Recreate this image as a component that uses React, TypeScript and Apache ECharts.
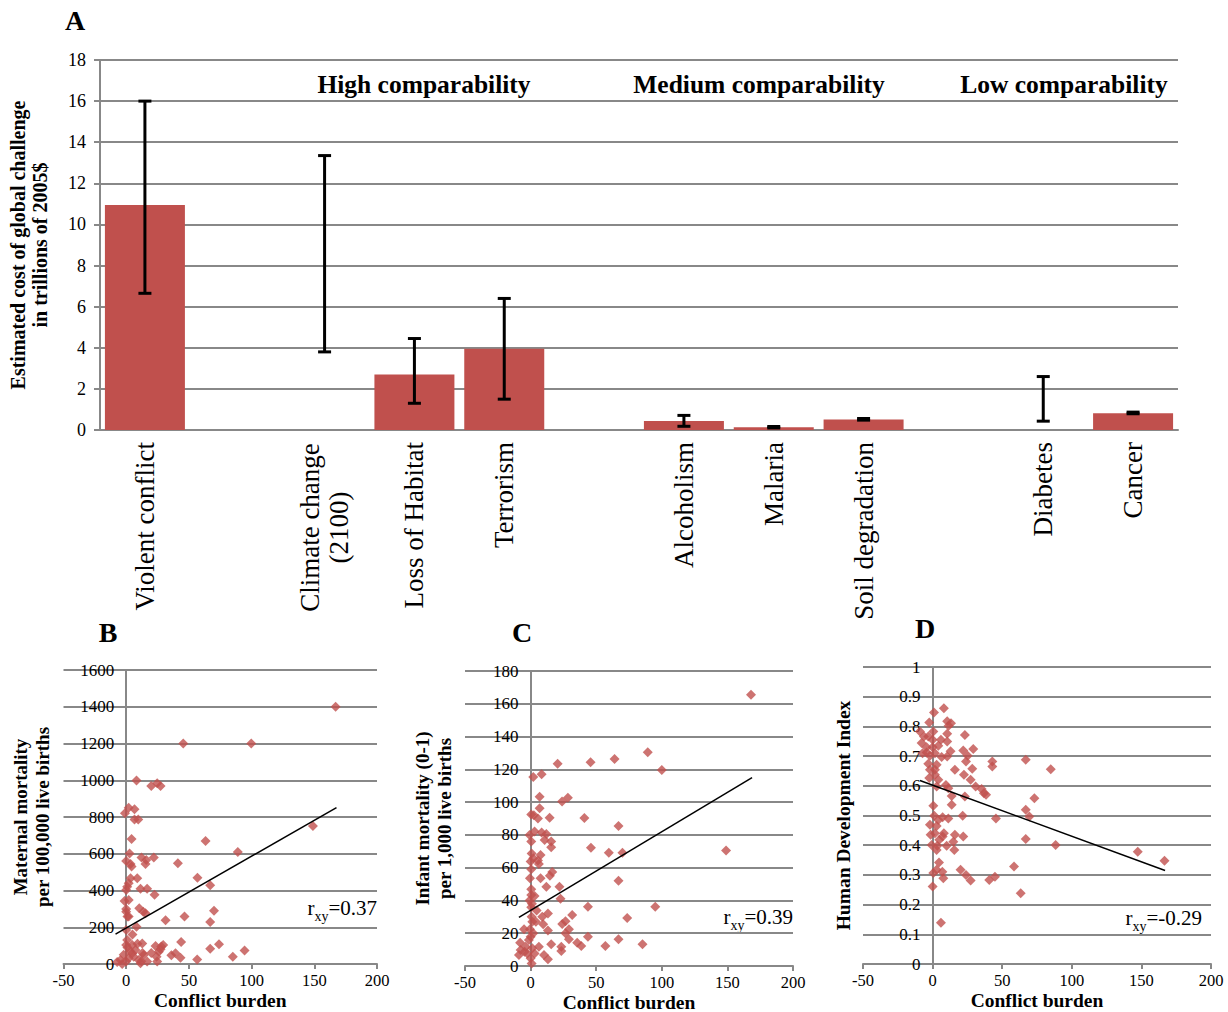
import React, { useEffect, useRef } from "react";
import * as echarts from "echarts";

const FONT = '"Liberation Serif", "Times New Roman", serif';
const RED = "#C0504D";
const GRAY = "#888888";

// Panel A
const categories = [
  "Violent conflict",
  "",
  "Climate change\n(2100)",
  "Loss of Habitat",
  "Terrorism",
  "",
  "Alcoholism",
  "Malaria",
  "Soil degradation",
  "",
  "Diabetes",
  "Cancer",
];
const costs = [10.95, null, null, 2.7, 3.95, null, 0.44, 0.13, 0.51, null, null, 0.82];
const errLow = [6.65, null, 3.8, 1.3, 1.5, null, 0.18, 0.1, 0.48, null, 0.43, 0.79];
const errHigh = [16, null, 13.35, 4.45, 6.4, null, 0.71, 0.17, 0.56, null, 2.6, 0.87];
const costTicks = { min: 0, max: 18, interval: 2 };
const sectionTitles = ["High comparability", "Medium comparability", "Low comparability"];

// Panel B: conflict burden vs maternal mortality
const pointsB = [
  [167, 1400], [45.5, 1200], [99.7, 1200], [8.2, 998], [20, 969], [24.7, 983], [27.4, 969],
  [-1, 820], [2, 850], [6.6, 842], [6.6, 787], [9.6, 787], [148.9, 751], [4.3, 680], [63.3, 669],
  [89, 609], [2.7, 602], [12.2, 580], [22, 580], [0, 560], [3.5, 544], [4.3, 530], [15.4, 544],
  [16, 566], [41.2, 548], [3.5, 466], [8.8, 466], [56.8, 470], [67, 428], [0.8, 421], [0, 403],
  [11.4, 410], [16.7, 410], [22.6, 377], [-1.3, 343], [2, 348], [10.4, 303], [13.6, 285],
  [15.4, 276], [70, 290], [0, 285], [1, 258], [2, 258], [46.5, 258], [31.4, 238], [67, 229],
  [0, 185], [8.2, 203], [0, 103], [12.8, 112], [23.4, 98], [29.5, 103], [43.8, 120], [74, 107],
  [67, 83], [36, 47], [39.3, 58], [43.3, 34], [56.6, 25], [85, 40], [94.4, 73], [-7.2, 11],
  [-4.5, 22], [-3.2, 0], [0, 13], [2, 31], [4.8, 58], [7.4, 76], [10, 22], [11.4, 4], [14, 49],
  [16.7, 13], [24.2, 40], [26, 67], [24.7, 13], [27.4, 80], [4.8, 103], [0.8, 130], [2, 440],
  [0, 300], [5, 160], [3, 70], [6, 40], [9, 110], [13, 60], [-2, 50], [1, 90], [20, 60],
  [28, 95], [12, 15],
];
const trendB = [[-8.5, 163], [167.7, 851]];
const ticksB = { min: 0, max: 1600, interval: 200 };

// Panel C: conflict burden vs infant mortality
const pointsC = [
  [168, 165.5], [89.3, 130.4], [64, 126.3], [45.7, 124.3], [20.6, 123.4], [100, 119.6], [2, 115.3],
  [8.4, 117], [6.9, 103.3], [28.4, 102.7], [24, 100.3], [6.9, 96.2], [0.5, 92.5], [2.5, 92],
  [5.6, 90], [14.5, 90.5], [41, 90.3], [67, 85.4], [-0.8, 80], [0.5, 76], [3, 82], [8.4, 81.4],
  [12, 80.5], [10.7, 76.9], [15.7, 75.9], [15.7, 72.4], [46, 72.2], [59.6, 69.1], [70, 69.1],
  [0.8, 68.7], [2, 65.7], [5.6, 64.3], [7.6, 67.7], [0, 63.7], [6.3, 62.2], [0.5, 59], [16.5, 57.4],
  [14.7, 55], [-0.5, 53.5], [7.6, 53.5], [67, 52], [12, 48.4], [22, 48.4], [0.5, 46.8], [0.5, 43.3],
  [3, 42.7], [22.8, 41], [149, 70.4], [-0.8, 40], [0.5, 35.8], [4.6, 33.8], [13.2, 32.1],
  [43.7, 36.2], [95, 36.2], [0.8, 30], [8.9, 30], [31.7, 31.1], [73.6, 29.3], [1.3, 27],
  [26.6, 27.3], [24.1, 25.6], [9.6, 25.4], [-0.5, 22.4], [-5, 22.4], [13.2, 21.6], [29.2, 22.4],
  [26.6, 20], [0, 17.9], [43.7, 17.9], [67, 16.3], [29.2, 16.3], [35.5, 14.2], [38.6, 12.2],
  [57, 12.2], [85.3, 13.2], [15.7, 13.2], [23.4, 11.8], [23.4, 9.2], [10.2, 6.7], [13.2, 4.1],
  [-8, 14.2], [-7.6, 9.8], [-8.9, 6.7], [-3.8, 11.8], [-2.5, 7.7], [0, 4.7], [0.8, 1.6],
  [-1.3, 15.9], [1.3, 10.8], [3, 7.7], [6.3, 11.8], [-4.6, 8.7], [2, 20], [4, 27], [1, 38],
];
const trendC = [[-8.9, 29.7], [168.8, 114.9]];
const ticksC = { min: 0, max: 180, interval: 20 };

// Panel D: conflict burden vs human development index
const pointsD = [
  [8.1, 0.861], [1, 0.847], [10.5, 0.817], [13.2, 0.811], [-2.4, 0.813], [11.5, 0.802],
  [-9.1, 0.783], [-6.2, 0.766], [-3.1, 0.766], [0.5, 0.783], [0, 0.755], [10.5, 0.775], [6, 0.755],
  [10.5, 0.749], [23.2, 0.771], [-7.9, 0.744], [-4.3, 0.73], [0, 0.73], [4.1, 0.735], [-7.2, 0.71],
  [-4.3, 0.712], [-1.9, 0.701], [1.7, 0.71], [6.5, 0.697], [10.5, 0.699], [12.9, 0.716], [22, 0.719],
  [29.2, 0.724], [25.2, 0.701], [24, 0.682], [42.9, 0.682], [42.9, 0.665], [66.9, 0.688],
  [84.9, 0.656], [-3.1, 0.674], [2.9, 0.671], [-1.9, 0.654], [1.7, 0.654], [16, 0.654],
  [28.5, 0.657], [-2.4, 0.626], [1.7, 0.637], [4.1, 0.62], [22.5, 0.637], [27.3, 0.62], [2.9, 0.598],
  [9.6, 0.603], [11.3, 0.592], [30.9, 0.598], [35.2, 0.589], [36.9, 0.575], [38.4, 0.57],
  [13.7, 0.566], [23.2, 0.564], [73.1, 0.558], [13.7, 0.536], [0.5, 0.533], [66.9, 0.519],
  [69.5, 0.497], [45.5, 0.49], [21.6, 0.499], [11.3, 0.49], [7.2, 0.494], [1.2, 0.499], [4.1, 0.485],
  [-1.9, 0.469], [2.9, 0.465], [-1.4, 0.435], [1.7, 0.44], [8.1, 0.44], [7.2, 0.429], [16, 0.435],
  [22, 0.429], [66.9, 0.421], [88.4, 0.401], [-0.7, 0.401], [3.4, 0.398], [2.9, 0.384], [10.1, 0.398],
  [14.9, 0.412], [15.6, 0.384], [4.8, 0.418], [147.4, 0.378], [166.6, 0.348], [4.6, 0.342],
  [0.5, 0.306], [2.9, 0.317], [7, 0.311], [7.7, 0.289], [20.1, 0.317], [24, 0.3], [27.3, 0.281],
  [40.7, 0.283], [44.8, 0.294], [58.5, 0.328], [63.3, 0.238], [0, 0.261], [6, 0.139],
];
const trendD = [[-9.1, 0.618], [167, 0.315]];
const ticksD = { min: 0, max: 1, interval: 0.1 };
const conflictTicks = { min: -50, max: 200, interval: 50 };
const rLabels = ["=0.37", "=0.39", "=-0.29"];

function measure(text: string, font: string): number {
  const c = document.createElement("canvas").getContext("2d");
  if (!c) return text.length * 12;
  c.font = font;
  return c.measureText(text).width;
}

const fmt = (v: number) => String(Number(v.toFixed(2)));

export default function App() {
  const ref = useRef<HTMLDivElement>(null);

  useEffect(() => {
    document.body.style.margin = "0";
    if (!ref.current) return;
    const chart = echarts.init(ref.current, undefined, { renderer: "svg" });

    const catFont = 27;
    const wide = Math.ceil(measure("Climate change", `${catFont}px ${FONT}`)) + 2;

    const grids = [
      { left: 100, top: 60, width: 1078, height: 370 },
      { left: 63.5, top: 670, width: 313.5, height: 294 },
      { left: 465, top: 671, width: 328, height: 295 },
      { left: 863, top: 667, width: 348, height: 297 },
    ];

    const errData = categories
      .map((_, i) => (errLow[i] == null ? null : [i, errLow[i], errHigh[i]]))
      .filter((d) => d !== null);

    const scatterX = (gi: number) => ({
      type: "value",
      gridIndex: gi,
      ...conflictTicks,
      axisLine: { onZero: false, lineStyle: { color: GRAY, width: 2 } },
      axisTick: { show: true, length: 5, lineStyle: { color: GRAY, width: 2 } },
      axisLabel: { fontSize: 16.5, fontFamily: FONT, color: "#000", margin: 8, showMinLabel: true, showMaxLabel: true, formatter: fmt },
      splitLine: { show: false },
      name: "Conflict burden",
      nameLocation: "middle",
      nameGap: 26,
      nameTextStyle: { fontSize: 19.5, fontWeight: "bold", fontFamily: FONT, color: "#000" },
    });
    // vertical axis crosses the horizontal one at conflict burden = 0
    const zeroOffset = (gi: number) =>
      -grids[gi].width * (0 - conflictTicks.min) / (conflictTicks.max - conflictTicks.min);
    const scatterY = (gi: number, t: any, name: string, gap: number, size: number) => ({
      type: "value",
      gridIndex: gi,
      ...t,
      offset: zeroOffset(gi),
      axisLine: { show: true, onZero: false, lineStyle: { color: GRAY, width: 2 } },
      axisTick: { show: false },
      axisLabel: { fontSize: 17, fontFamily: FONT, color: "#000", margin: 12, formatter: fmt },
      splitLine: { show: true, lineStyle: { color: GRAY, width: 2 } },
      name,
      nameLocation: "middle",
      nameGap: gap,
      nameTextStyle: { fontSize: size, fontWeight: "bold", fontFamily: FONT, color: "#000", lineHeight: 22 },
    });

    const scatterSeries = (idx: number, data: number[][], trend: number[][]) => [
      {
        type: "scatter",
        xAxisIndex: idx,
        yAxisIndex: idx,
        data,
        symbol: "diamond",
        symbolSize: [10, 10],
        itemStyle: { color: RED },
      },
      {
        type: "line",
        xAxisIndex: idx,
        yAxisIndex: idx,
        data: trend,
        showSymbol: false,
        symbol: "none",
        lineStyle: { color: "#000", width: 1.5 },
        z: 5,
      },
    ];

    const rText = (x: number, y: number, val: string) => ({
      type: "text",
      x,
      y,
      style: {
        text: `{r|r}{s|xy}{r|${val}}`,
        textAlign: "right",
        textVerticalAlign: "middle",
        rich: {
          r: { fontSize: 21, fontFamily: FONT, fill: "#000", lineHeight: 26, verticalAlign: "top" },
          s: { fontSize: 14, fontFamily: FONT, fill: "#000", lineHeight: 14, verticalAlign: "bottom" },
        },
      },
    });
    const letter = (x: number, y: number, t: string) => ({
      type: "text",
      x,
      y,
      style: { text: t, font: `bold 28px ${FONT}`, fill: "#000", textAlign: "center", textVerticalAlign: "middle" },
    });
    const section = (x: number, t: string) => ({
      type: "text",
      x,
      y: 84,
      style: { text: t, font: `bold 25.5px ${FONT}`, fill: "#000", textAlign: "center", textVerticalAlign: "middle" },
    });

    const option: any = {
      animation: false,
      grid: grids.map((g) => ({ ...g, containLabel: false, outerBoundsMode: "none" })),
      xAxis: [
        {
          type: "category",
          gridIndex: 0,
          data: categories,
          axisLine: { lineStyle: { color: GRAY, width: 2 } },
          axisTick: { show: false },
          axisLabel: {
            interval: 0,
            rotate: 90,
            margin: 12,
            fontSize: catFont,
            fontFamily: FONT,
            color: "#000",
            formatter: (v: string) =>
              v.includes("\n") ? v.split("\n").map((s) => `{m|${s}}`).join("\n") : v,
            rich: {
              m: { width: wide, align: "center", fontSize: catFont, fontFamily: FONT, color: "#000", lineHeight: 29 },
            },
          },
        },
        scatterX(1),
        scatterX(2),
        scatterX(3),
      ],
      yAxis: [
        {
          type: "value",
          gridIndex: 0,
          ...costTicks,
          axisLine: { show: true, lineStyle: { color: GRAY, width: 2 } },
          axisTick: { show: true, length: 6, lineStyle: { color: GRAY, width: 2 } },
          axisLabel: { fontSize: 18, fontFamily: FONT, color: "#000", margin: 14, formatter: fmt },
          splitLine: { lineStyle: { color: GRAY, width: 2 } },
          name: "Estimated cost of global challenge\nin trillions of 2005$",
          nameLocation: "middle",
          nameGap: 49,
          nameTextStyle: { fontSize: 20, fontWeight: "bold", fontFamily: FONT, color: "#000", lineHeight: 22 },
        },
        scatterY(1, ticksB, "Maternal mortality\nper 100,000 live births", 73, 19),
        scatterY(2, ticksC, "Infant mortality (0-1)\nper 1,000 live births", 75, 19),
        scatterY(3, ticksD, "Human Development Index", 78, 19.5),
      ],
      series: [
        {
          type: "bar",
          xAxisIndex: 0,
          yAxisIndex: 0,
          data: costs,
          barWidth: 80,
          itemStyle: { color: RED },
        },
        {
          type: "custom",
          xAxisIndex: 0,
          yAxisIndex: 0,
          data: errData,
          encode: { x: 0, y: [1, 2] },
          z: 4,
          renderItem: (params: any, api: any) => {
            const i = api.value(0);
            const lo = api.coord([i, api.value(1)]);
            const hi = api.coord([i, api.value(2)]);
            const hw = 6.5;
            const st = { stroke: "#000", lineWidth: 3 };
            return {
              type: "group",
              children: [
                { type: "line", shape: { x1: lo[0], y1: lo[1], x2: hi[0], y2: hi[1] }, style: st },
                { type: "line", shape: { x1: hi[0] - hw, y1: hi[1], x2: hi[0] + hw, y2: hi[1] }, style: st },
                { type: "line", shape: { x1: lo[0] - hw, y1: lo[1], x2: lo[0] + hw, y2: lo[1] }, style: st },
              ],
            };
          },
        },
        ...scatterSeries(1, pointsB, trendB),
        ...scatterSeries(2, pointsC, trendC),
        ...scatterSeries(3, pointsD, trendD),
      ],
      graphic: [
        letter(75, 20, "A"),
        letter(108, 632, "B"),
        letter(522, 632, "C"),
        letter(925, 628, "D"),
        section(424, sectionTitles[0]),
        section(759, sectionTitles[1]),
        section(1064, sectionTitles[2]),
        rText(377, 910, rLabels[0]),
        rText(793, 919, rLabels[1]),
        rText(1202, 920, rLabels[2]),
      ],
    };

    chart.setOption(option);
    return () => chart.dispose();
  }, []);

  return <div ref={ref} style={{ width: 1228, height: 1012 }} />;
}
